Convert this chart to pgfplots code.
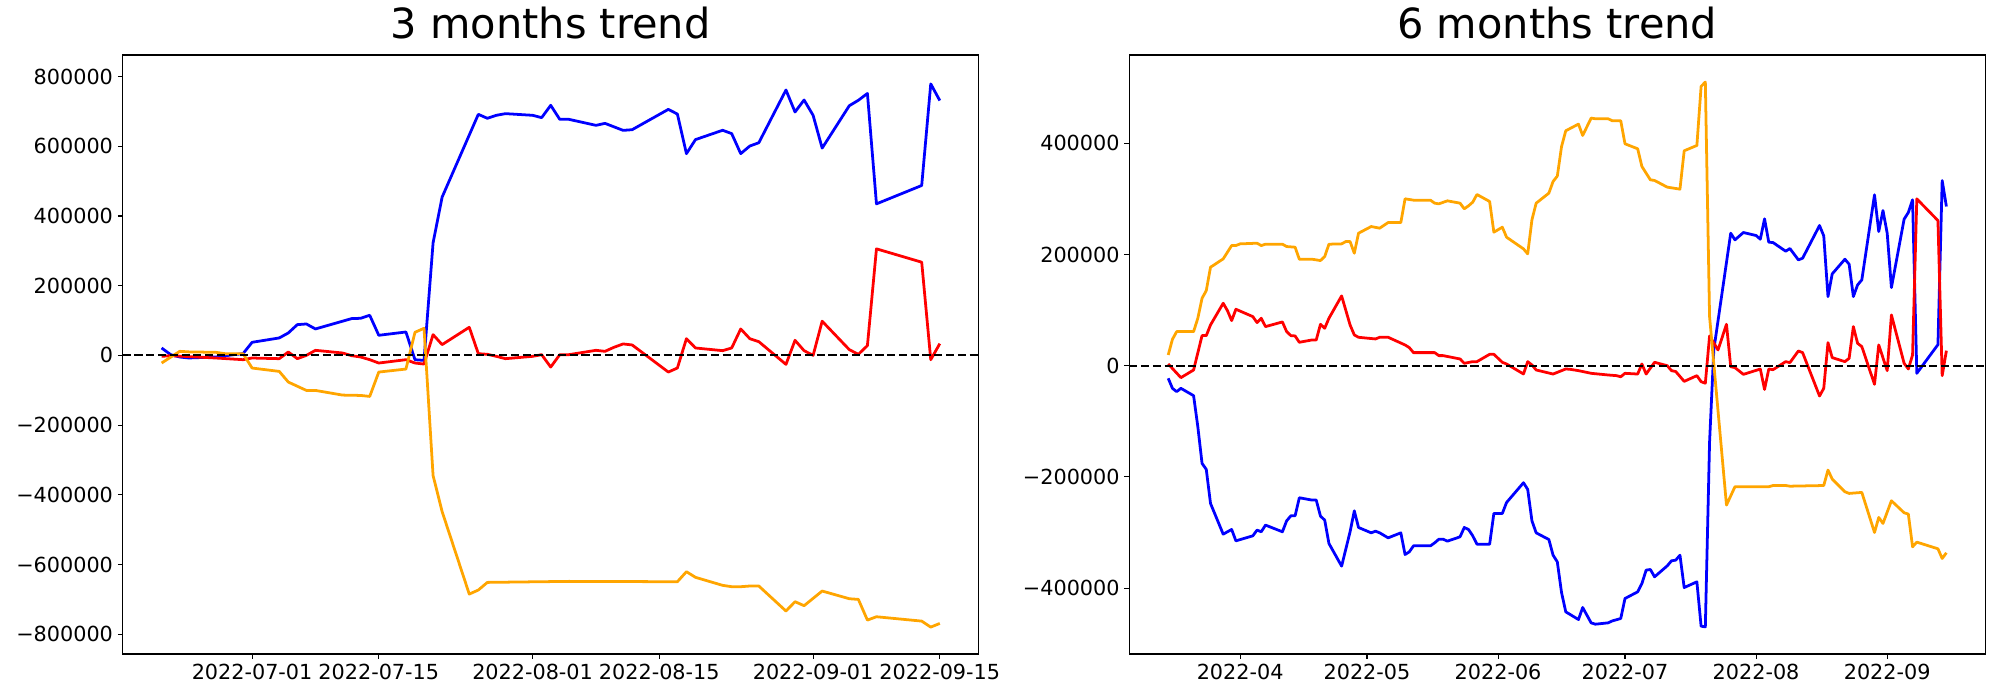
\documentclass[border=0pt]{standalone}
\usepackage{fontspec}
\setmainfont{DejaVu Sans}
\usepackage{pgfplots}
\pgfplotsset{compat=1.18}
\definecolor{mplorange}{RGB}{255,165,0}
\definecolor{mplblue}{RGB}{0,0,255}
\definecolor{mplred}{RGB}{255,0,0}
\pgfplotsset{
  trend/.style={
    scale only axis, width=8.56in, height=5.99in,
    anchor=south west,
    tick align=outside, xtick pos=left, ytick pos=left,
    major tick length=3.5pt,
    every tick/.append style={black, line width=0.8pt},
    axis line style={line width=0.8pt},
    tick label style={font=\fontsize{15}{18}\selectfont},
    title style={font=\fontsize{30}{36}\selectfont, anchor=base, yshift=6pt},
    /pgf/number format/assume math mode=true,
    scaled y ticks=false,
    every axis plot/.append style={line width=2pt, line join=round},
  },
  zeroline/.style={black, line width=1.6pt, dash pattern=on 5.9pt off 2.6pt},
}
\begin{document}
\begin{tikzpicture}
\useasboundingbox (0,0) rectangle (20in,7in);
% ---------------- left: 3 months (x = days from 2022-07-01)
\begin{axis}[trend,
  at={(1.227in,0.46in)},
  xmin=-14.3, xmax=80.3, ymin=-857000, ymax=862000,
  xtick={0,14,31,45,62,76},
  xticklabels={2022-07-01,2022-07-15,2022-08-01,2022-08-15,2022-09-01,2022-09-15},
  ytick={-800000,-600000,-400000,-200000,0,200000,400000,600000,800000},
  yticklabels={−800000,−600000,−400000,−200000,0,200000,400000,600000,800000},
  title={3 months trend},
]
\addplot[mplblue] coordinates {
(-10,21200) (-9,2100) (-8,-4700) (-7,-7500) (-4,-4700) (-2,2100) (-1,4900) (0,37500)
(3,50000) (4,64300) (5,88200) (6,90100) (7,75800) (11,105500) (12,106400) (13,115000)
(14,57600) (17,67100) (18,-12500) (19,-14400) (20,322900) (21,454100) (25,691700)
(26,680300) (27,688900) (28,693700) (31,688900) (32,682200) (33,717600) (34,677400)
(35,677400) (38,660100) (39,665800) (41,645700) (42,647600) (46,706000) (47,692500)
(48,578900) (49,619200) (52,646000) (53,636400) (54,578900) (55,600700) (56,610200)
(59,761600) (60,698400) (61,732900) (62,688800) (63,594800) (66,716500) (67,732000)
(68,751600) (69,434800) (74,487500) (75,779100) (76,731200)
};
\addplot[mplred] coordinates {
(-10,-2800) (-9,-900) (-4,-7600) (-1,-12400) (0,-7600) (3,-9500) (4,9700) (5,-9500)
(6,0) (7,14500) (10,6800) (11,-900) (12,-4700) (13,-12400) (14,-22000) (17,-12400)
(18,-22000) (19,-24900) (20,59500) (21,30800) (24,80600) (25,4900) (26,3000) (27,-2800)
(28,-9500) (31,-2800) (32,2000) (33,-33600) (34,2000) (35,2000) (38,14500) (39,11600)
(40,23200) (41,32800) (42,29900) (46,-47900) (47,-36300) (48,47900) (49,21200)
(52,13500) (53,21200) (54,75800) (55,48000) (56,39300) (59,-25900) (60,43200)
(61,13500) (62,0) (63,98000) (66,16400) (67,3000) (68,28000) (69,305700) (74,267400)
(75,-12400) (76,33600)
};
\addplot[mplorange] coordinates {
(-10,-22000) (-8,11600) (-7,10000) (-4,8700) (-3,4900) (-1,4900) (0,-36400) (3,-46000)
(4,-76600) (6,-100600) (7,-100600) (10,-114000) (12,-115000) (13,-117800) (14,-47900)
(17,-39300) (18,66200) (19,77700) (20,-344800) (21,-448300) (24,-685000) (25,-673500)
(26,-651500) (35,-648600) (47,-649600) (48,-620800) (49,-637000) (52,-660000)
(53,-663900) (54,-663900) (55,-661900) (56,-661900) (59,-733700) (60,-706900)
(61,-718400) (63,-676300) (66,-698400) (67,-700300) (68,-759700) (69,-750100)
(74,-762600) (75,-779800) (76,-769300)
};
\addplot[zeroline] coordinates {(-14.3,0) (80.3,0)};
\end{axis}
% ---------------- right: 6 months (x = days from 2022-04-01)
\begin{axis}[trend,
  at={(11.293in,0.46in)},
  xmin=-26.2, xmax=176.2, ymin=-518500, ymax=558800,
  xtick={0,30,61,91,122,153},
  xticklabels={2022-04,2022-05,2022-06,2022-07,2022-08,2022-09},
  ytick={-400000,-200000,0,200000,400000},
  yticklabels={−400000,−200000,0,200000,400000},
  title={6 months trend},
]
\addplot[mplblue] coordinates {
(-17,-22700) (-16,-40700) (-15,-46700) (-14,-40700) (-11,-53900) (-10,-109700)
(-9,-175700) (-8,-186500) (-7,-247700) (-4,-303000) (-2,-294500) (-1,-315000)
(3,-306000) (4,-295700) (5,-298700) (6,-286700) (10,-298700) (11,-279000) (12,-270000)
(13,-270000) (14,-237500) (17,-241700) (18,-241700) (19,-270500) (20,-277700)
(21,-319700) (24,-360500) (26,-298700) (27,-261000) (28,-291000) (31,-300600)
(32,-297600) (33,-300600) (35,-309600) (38,-300600) (39,-339600) (40,-334800)
(41,-324000) (45,-324000) (46,-318600) (47,-312000) (48,-312000) (49,-315600)
(52,-307800) (53,-291000) (54,-294500) (55,-306000) (56,-321000) (59,-321000)
(60,-265700) (62,-265700) (63,-246000) (67,-210500) (68,-222500) (69,-279000)
(70,-300600) (73,-312600) (74,-340800) (75,-352800) (76,-408000) (77,-442700)
(80,-456500) (81,-434900) (83,-462500) (84,-464900) (87,-462500) (88,-459000)
(90,-454700) (91,-418700) (94,-406700) (95,-391800) (96,-367700) (97,-366500)
(98,-379700) (101,-359900) (102,-350900) (103,-349700) (104,-340800) (105,-399000)
(108,-388700) (109,-468500) (110,-469700) (111,-137500) (112,28300) (116,238300)
(117,226300) (119,239500) (122,234100) (123,227500) (124,264100) (125,222100)
(126,221500) (129,205900) (130,210700) (132,190300) (133,193300) (137,252100)
(138,233500) (139,124300) (140,165100) (143,191500) (144,182500) (145,124300)
(146,145300) (147,154300) (150,307300) (151,241300) (152,279100) (153,238300)
(154,140500) (157,263500) (158,275500) (159,298300) (160,-13700) (165,37900)
(166,333000) (167,286300)
};
\addplot[mplred] coordinates {
(-17,3100) (-14,-21500) (-11,-7700) (-9,54100) (-8,54100) (-7,73300) (-4,112300)
(-3,99100) (-2,81100) (-1,101500) (3,88300) (4,77500) (5,85300) (6,70300) (10,78700)
(11,61300) (12,54100) (13,53500) (14,42100) (17,46300) (18,46300) (19,74500)
(20,67300) (21,85300) (24,125500) (26,73300) (27,55300) (28,51100) (32,48100)
(33,51100) (35,51100) (39,37300) (40,32500) (41,23500) (46,23500) (47,18100)
(48,18100) (52,12100) (53,4300) (55,7300) (56,7300) (59,20500) (60,20500) (62,6100)
(63,3100) (67,-14900) (68,7300) (69,1300) (70,-7700) (74,-15000) (77,-5900)
(78,-6500) (80,-8900) (83,-13700) (87,-16700) (89,-17900) (90,-19900) (91,-13700)
(94,-15000) (95,3100) (96,-15000) (98,6100) (101,0) (102,-8900) (103,-10500)
(105,-28200) (108,-17900) (109,-28800) (110,-31500) (111,53500) (113,28300)
(115,74500) (116,-1800) (117,-3500) (119,-15600) (123,-6000) (124,-42700) (125,-6000)
(126,-7200) (129,7300) (130,5500) (132,26500) (133,23500) (137,-54500) (138,-40700)
(139,41500) (140,14500) (143,7300) (144,13300) (145,70300) (146,40300) (147,34300)
(150,-33500) (151,37300) (153,-8900) (154,91300) (157,4300) (158,-5900) (159,19300)
(160,300000) (165,261000) (166,-18000) (167,27000)
};
\addplot[mplorange] coordinates {
(-17,19300) (-16,47500) (-15,61300) (-11,61300) (-10,85300) (-9,121300) (-8,135100)
(-7,177100) (-4,192100) (-2,216100) (-1,216100) (0,219100) (4,220300) (5,216100)
(6,218500) (10,218500) (11,214300) (13,213100) (14,191500) (17,191500) (19,189100)
(20,196300) (21,218500) (24,219100) (25,223300) (26,223300) (27,202300) (28,238300)
(31,250300) (33,247300) (35,257500) (38,257500) (39,300100) (41,297700) (45,297700)
(46,292300) (47,291100) (49,296500) (52,292300) (53,282100) (54,287500) (55,294100)
(56,307900) (59,295300) (60,240100) (62,249100) (63,231100) (67,210100) (68,201100)
(69,262300) (70,292300) (73,310300) (74,331300) (75,341000) (76,394000) (77,422500)
(80,434500) (81,414100) (83,445300) (84,444100) (87,444100) (88,440500) (90,440500)
(91,399100) (94,390100) (95,358300) (97,334300) (98,333100) (101,321100) (104,317500)
(105,386500) (108,396100) (109,502300) (110,510100) (111,88300) (115,-250700)
(117,-217700) (125,-217700) (126,-215500) (129,-215500) (130,-216700) (138,-215500)
(139,-187700) (140,-203900) (143,-226700) (144,-229700) (147,-227900) (150,-300000)
(151,-272900) (152,-283700) (154,-242900) (157,-264500) (158,-266900) (159,-325700)
(160,-317300) (165,-329300) (166,-346700) (167,-336500)
};
\addplot[zeroline] coordinates {(-26.2,0) (176.2,0)};
\end{axis}
\end{tikzpicture}
\end{document}
